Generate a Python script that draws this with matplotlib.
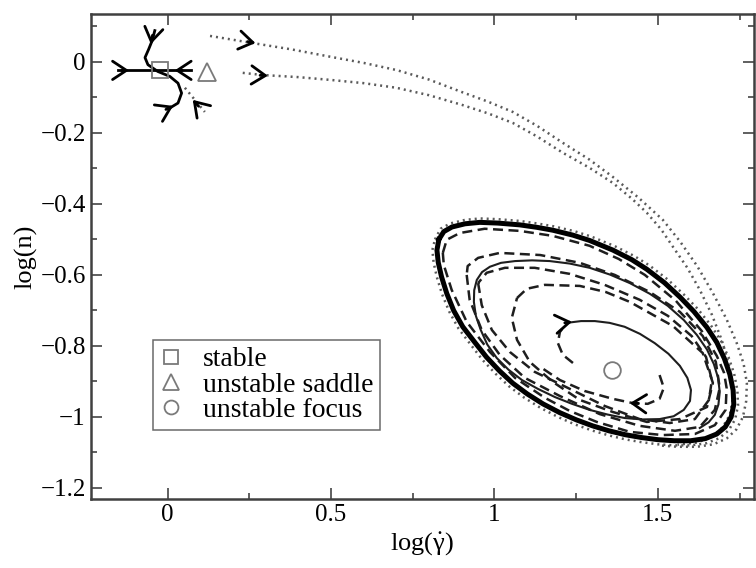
import matplotlib
matplotlib.use("Agg")
import matplotlib.pyplot as plt
from matplotlib.lines import Line2D
from matplotlib.ticker import MultipleLocator

# --- dati (coordinate log(gamma_dot), log(n)) ---

# punti fissi
stable_pt = (-0.024, -0.023)
saddle_pt = (0.122, -0.028)
focus_pt = (1.358, -0.868)

# ciclo limite (linea spessa)
cycle_x = [0.830, 0.845, 0.870, 0.910, 0.955, 1.010, 1.077, 1.130, 1.178, 1.240, 1.291, 1.362, 1.420,
           1.466, 1.520, 1.567, 1.610, 1.650, 1.680, 1.703, 1.720, 1.730, 1.732, 1.724, 1.706, 1.680,
           1.645, 1.600, 1.550, 1.500, 1.450, 1.400, 1.350, 1.300, 1.250, 1.200, 1.148, 1.100, 1.056,
           1.015, 0.976, 0.940, 0.903, 0.875, 0.854, 0.838, 0.828, 0.824, 0.830]
cycle_y = [-0.500, -0.478, -0.465, -0.456, -0.452, -0.454, -0.459, -0.466, -0.474, -0.488, -0.503, -0.530,
           -0.557, -0.584, -0.622, -0.662, -0.703, -0.748, -0.790, -0.835, -0.880, -0.925, -0.965, -1.000,
           -1.028, -1.048, -1.061, -1.067, -1.067, -1.064, -1.058, -1.050, -1.039, -1.025, -1.008, -0.988,
           -0.963, -0.935, -0.905, -0.870, -0.832, -0.790, -0.746, -0.700, -0.652, -0.605, -0.565, -0.530,
           -0.500]

# alone punteggiato attorno al ciclo
halo_x = [0.818, 0.835, 0.865, 0.910, 0.955, 1.010, 1.077, 1.130, 1.180, 1.245, 1.296, 1.368, 1.428,
          1.475, 1.530, 1.578, 1.622, 1.662, 1.693, 1.716, 1.733, 1.743, 1.745, 1.736, 1.716, 1.687,
          1.648, 1.600, 1.550, 1.500, 1.450, 1.400, 1.350, 1.298, 1.246, 1.194, 1.140, 1.090, 1.045,
          1.003, 0.963, 0.927, 0.890, 0.862, 0.840, 0.824, 0.814, 0.810, 0.818]
halo_y = [-0.500, -0.470, -0.455, -0.445, -0.441, -0.443, -0.448, -0.455, -0.463, -0.477, -0.492, -0.519,
          -0.547, -0.574, -0.613, -0.654, -0.696, -0.742, -0.786, -0.832, -0.878, -0.925, -0.968, -1.007,
          -1.038, -1.060, -1.074, -1.080, -1.080, -1.077, -1.071, -1.063, -1.052, -1.038, -1.021, -1.000,
          -0.974, -0.945, -0.914, -0.878, -0.839, -0.796, -0.751, -0.704, -0.655, -0.607, -0.566, -0.530,
          -0.500]

# traiettorie punteggiate esterne
dot_up_x = [0.13, 0.26, 0.38, 0.50, 0.60, 0.70, 0.80, 0.90, 0.98, 1.056, 1.13, 1.209, 1.29, 1.362, 1.44,
            1.515, 1.567, 1.620, 1.668, 1.710, 1.741, 1.762, 1.772, 1.770, 1.760, 1.740, 1.711, 1.670,
            1.619, 1.560, 1.500]
dot_up_y = [0.073, 0.053, 0.035, 0.014, -0.003, -0.023, -0.050, -0.085, -0.112, -0.141, -0.180, -0.228,
            -0.275, -0.324, -0.382, -0.445, -0.505, -0.575, -0.651, -0.725, -0.792, -0.850, -0.904, -0.955,
            -1.000, -1.035, -1.060, -1.077, -1.084, -1.084, -1.080]
dot_lo_x = [0.23, 0.29, 0.40, 0.50, 0.60, 0.70, 0.80, 0.90, 0.98, 1.056, 1.13, 1.209, 1.29, 1.362, 1.42,
            1.466, 1.510, 1.546, 1.590, 1.628, 1.665, 1.695, 1.716, 1.729, 1.728, 1.720, 1.697, 1.665,
            1.620, 1.560]
dot_lo_y = [-0.031, -0.037, -0.043, -0.051, -0.060, -0.073, -0.094, -0.121, -0.145, -0.172, -0.210, -0.256,
            -0.298, -0.341, -0.385, -0.425, -0.472, -0.521, -0.580, -0.642, -0.712, -0.783, -0.850, -0.910,
            -0.955, -0.994, -1.030, -1.056, -1.072, -1.078]
dot_small_x = [0.053, 0.114]
dot_small_y = [-0.073, -0.141]

# traiettorie tratteggiate interne
dash1_x = [0.842, 0.854, 0.894, 0.970, 1.077, 1.178, 1.291, 1.380, 1.460, 1.555, 1.634, 1.680, 1.702,
           1.710, 1.707, 1.674, 1.613, 1.515, 1.414, 1.313, 1.230, 1.154, 1.063, 0.986, 0.915, 0.869,
           0.845, 0.842]
dash1_y = [-0.538, -0.501, -0.482, -0.470, -0.476, -0.490, -0.518, -0.555, -0.600, -0.673, -0.758, -0.828,
           -0.875, -0.918, -0.980, -1.023, -1.048, -1.051, -1.042, -1.014, -0.983, -0.946, -0.890, -0.817,
           -0.732, -0.642, -0.572, -0.538]
dash2_x = [0.915, 0.924, 0.961, 1.016, 1.093, 1.200, 1.322, 1.444, 1.552, 1.628, 1.674, 1.689, 1.677,
           1.637, 1.567, 1.475, 1.368, 1.261, 1.140, 1.016, 0.950, 0.918, 0.915]
dash2_y = [-0.600, -0.670, -0.755, -0.825, -0.890, -0.941, -0.992, -1.025, -1.039, -1.028, -0.980, -0.918,
           -0.845, -0.772, -0.704, -0.648, -0.600, -0.566, -0.544, -0.538, -0.552, -0.575, -0.600]
dash3_x = [0.950, 0.961, 0.992, 1.047, 1.123, 1.224, 1.337, 1.444, 1.536, 1.613, 1.656, 1.665, 1.647,
           1.603, 1.530, 1.444, 1.337, 1.230, 1.123, 1.032, 0.976, 0.950]
dash3_y = [-0.623, -0.685, -0.755, -0.817, -0.873, -0.918, -0.969, -1.006, -1.017, -1.006, -0.952, -0.896,
           -0.831, -0.772, -0.715, -0.670, -0.628, -0.597, -0.580, -0.580, -0.594, -0.623]
dash4_x = [1.069, 1.099, 1.154, 1.261, 1.340, 1.414, 1.546, 1.637, 1.668, 1.650, 1.567, 1.466, 1.362,
           1.261, 1.178, 1.108, 1.069, 1.053, 1.069]
dash4_y = [-0.665, -0.639, -0.628, -0.631, -0.648, -0.676, -0.744, -0.820, -0.904, -0.972, -1.006, -1.014,
           -0.986, -0.952, -0.901, -0.845, -0.783, -0.721, -0.665]
start_in_x = [1.240, 1.209, 1.194, 1.200, 1.221]
start_in_y = [-0.848, -0.825, -0.792, -0.761, -0.735]
start_lt_x = [1.505, 1.518, 1.505, 1.469, 1.423, 1.362, 1.276, 1.200, 1.140]
start_lt_y = [-0.882, -0.918, -0.949, -0.963, -0.961, -0.949, -0.927, -0.896, -0.859]

# spirale sottile continua
thin_x = [1.221, 1.265, 1.307, 1.352, 1.398, 1.445, 1.490, 1.532, 1.567, 1.590, 1.601, 1.598, 1.579,
          1.548, 1.505, 1.452, 1.398, 1.345, 1.291, 1.237, 1.185, 1.133, 1.084, 1.043, 1.007, 0.978,
          0.958, 0.943, 0.937, 0.938, 0.946, 0.962, 0.986, 1.020, 1.063, 1.115, 1.169, 1.230, 1.291,
          1.353, 1.414, 1.475, 1.530, 1.579, 1.619, 1.650, 1.671, 1.684, 1.689, 1.685, 1.674, 1.655,
          1.628]
thin_y = [-0.735, -0.730, -0.730, -0.735, -0.746, -0.766, -0.792, -0.822, -0.856, -0.890, -0.924, -0.955,
          -0.980, -0.998, -1.006, -1.007, -1.003, -0.993, -0.980, -0.963, -0.944, -0.921, -0.896, -0.867,
          -0.834, -0.796, -0.755, -0.715, -0.676, -0.643, -0.614, -0.592, -0.577, -0.566, -0.561, -0.559,
          -0.561, -0.568, -0.580, -0.599, -0.623, -0.653, -0.687, -0.727, -0.769, -0.810, -0.851, -0.890,
          -0.930, -0.965, -0.994, -1.015, -1.031]

# traiettorie vicino al nodo stabile
horiz_x = [-0.152, 0.073]
horiz_y = [-0.024, -0.024]
scurve_x = [-0.039, -0.047, -0.058, -0.069, -0.060, -0.030, 0.007, 0.032, 0.043, 0.032, 0.007]
scurve_y = [0.088, 0.060, 0.035, 0.012, -0.008, -0.027, -0.041, -0.060, -0.088, -0.116, -0.130]

# frecce: (coda, punta)
arrows = [
    ((0.245, 0.057), (0.269, 0.053)),
    ((0.283, -0.038), (0.307, -0.039)),
    ((-0.140, -0.024), (-0.118, -0.024)),
    ((0.045, -0.024), (0.022, -0.024)),
    ((-0.046, 0.075), (-0.051, 0.050)),
    ((-0.005, -0.134), (0.017, -0.124)),
    ((0.095, -0.125), (0.077, -0.107)),
    ((1.215, -0.735), (1.237, -0.732)),
    ((1.440, -0.962), (1.414, -0.961)),
]

x_ticks = [0, 0.5, 1, 1.5]
x_ticklabels = ["0", "0.5", "1", "1.5"]
y_ticks = [0, -0.2, -0.4, -0.6, -0.8, -1, -1.2]
y_ticklabels = ["0", "\u22120.2", "\u22120.4", "\u22120.6", "\u22120.8", "\u22121", "\u22121.2"]

# --- grafico ---
plt.rcParams["font.family"] = ["Liberation Serif", "DejaVu Serif"]
plt.rcParams["mathtext.fontset"] = "custom"
plt.rcParams["mathtext.rm"] = "Liberation Serif"
plt.rcParams["mathtext.it"] = "Liberation Serif"

fig = plt.figure(figsize=(7.56, 5.68), dpi=100)
ax = fig.add_axes([0.120, 0.1215, 0.877, 0.854])

dotted = dict(color="#5a5a5a", lw=1.8, linestyle=(0, (0.8, 1.6)))
dashed = dict(color="#1e1e1e", lw=1.8, linestyle=(0, (4, 2.2)))

ax.plot(dot_up_x, dot_up_y, **dotted)
ax.plot(dot_lo_x, dot_lo_y, **dotted)
ax.plot(halo_x, halo_y, **dotted)
ax.plot(dot_small_x, dot_small_y, **dotted)

ax.plot(cycle_x, cycle_y, color="black", lw=3.6, solid_joinstyle="round")
for xs, ys in [(dash1_x, dash1_y), (dash2_x, dash2_y), (dash3_x, dash3_y), (dash4_x, dash4_y),
               (start_in_x, start_in_y), (start_lt_x, start_lt_y)]:
    ax.plot(xs, ys, **dashed)
ax.plot(thin_x, thin_y, color="#1e1e1e", lw=1.5)

ax.plot(horiz_x, horiz_y, color="black", lw=2)
ax.plot(scurve_x, scurve_y, color="black", lw=2)

for tail, tip in arrows:
    ax.annotate("", xy=tip, xytext=tail,
                arrowprops=dict(arrowstyle="->,head_length=0.5,head_width=0.33", lw=2,
                                color="black", shrinkA=0, shrinkB=0, mutation_scale=20))

mk = dict(color="#7a7a7a", mfc="none", mew=1.3, linestyle="none")
ax.plot(*stable_pt, marker="s", ms=11, **mk)
ax.plot(*saddle_pt, marker="^", ms=13, **mk)
ax.plot(*focus_pt, marker="o", ms=12, **mk)

handles = [Line2D([], [], marker="s", ms=10, **mk),
           Line2D([], [], marker="^", ms=11, **mk),
           Line2D([], [], marker="o", ms=10, **mk)]
leg = ax.legend(handles, ["stable", "unstable saddle", "unstable focus"],
                loc="lower left", bbox_to_anchor=(0.0935, 0.142), fontsize=20,
                frameon=True, fancybox=False, handlelength=0.8, handletextpad=0.75,
                labelspacing=0.0, borderpad=0.25, borderaxespad=0)
leg.get_frame().set_edgecolor("#444444")
leg.get_frame().set_linewidth(1.1)

ax.set_xlim(-0.235, 1.793)
ax.set_ylim(-1.231, 0.135)
ax.set_xticks(x_ticks)
ax.set_xticklabels(x_ticklabels)
ax.set_yticks(y_ticks)
ax.set_yticklabels(y_ticklabels)
ax.xaxis.set_minor_locator(MultipleLocator(0.25))
ax.yaxis.set_minor_locator(MultipleLocator(0.1))
ax.tick_params(which="both", direction="in", top=True, right=True, labelsize=18, color="#444444")
ax.tick_params(which="major", length=8, width=1.2)
ax.tick_params(which="minor", length=4, width=1.2)
for s in ax.spines.values():
    s.set_color("#404040")
    s.set_linewidth(1.8)

ax.set_xlabel(r"log($\dot{\mathrm{\gamma}}$)", fontsize=19, labelpad=3)
ax.set_ylabel("log(n)", fontsize=19, labelpad=2)

fig.savefig("out.png", dpi=100)
